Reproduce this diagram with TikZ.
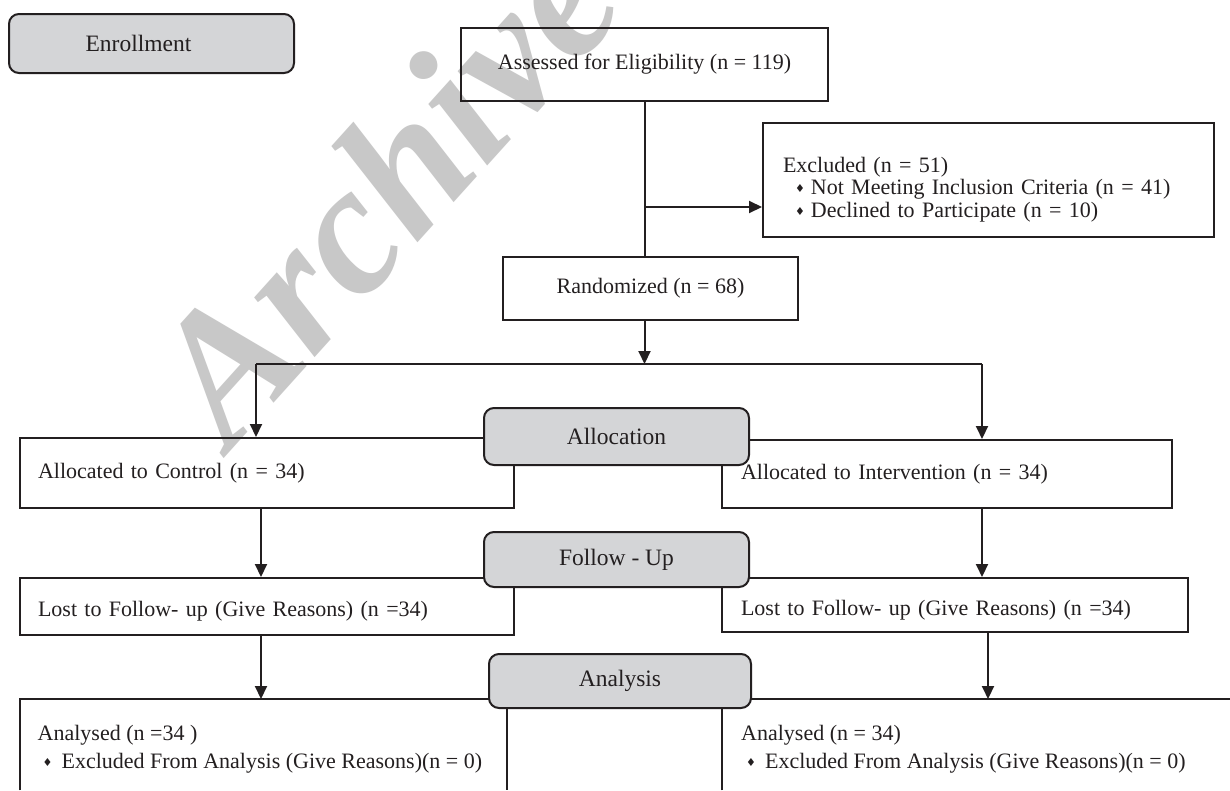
\documentclass[tikz,border=0pt]{standalone}
\usepackage{fontspec}
\setmainfont{Liberation Serif}
\newfontfamily\symfont{DejaVu Sans}
\usetikzlibrary{arrows.meta,calc}
\definecolor{ink}{RGB}{35,31,32}
\definecolor{boxgray}{RGB}{212,213,215}
\definecolor{wmgray}{RGB}{200,200,200}
\newcommand{\bul}{{\symfont\fontsize{11}{11}\selectfont\raisebox{2pt}{♦}}}
\tikzset{
  whitebox/.style={draw=ink, line width=2pt, inner sep=0pt, text=ink, font=\fontsize{22}{24}\selectfont},
  leftbox/.style={whitebox, align=left},
  txt/.style={inner sep=0pt, text=ink, align=left, font=\fontsize{22}{28}\selectfont},
  graybox/.style={draw=ink, fill=boxgray, rounded corners=10pt, line width=2pt, inner sep=0pt, text=ink, font=\fontsize{23.5}{26}\selectfont},
  frame/.style={draw=ink, line width=2pt},
  conn/.style={draw=ink, line width=2pt},
  arr/.style={conn, -{Triangle[width=12pt,length=13pt]}},
  wm/.style={text=wmgray, inner sep=0pt, font=\fontsize{185}{185}\selectfont\bfseries\itshape}
}
\begin{document}
\begin{tikzpicture}[x=1pt,y=-1pt]
\useasboundingbox (0,0) rectangle (1230,790);
\fill[white] (0,0) rectangle (1230,790);

% watermark
\node[wm, rotate=48, anchor=base west] (wmark) at (230,452) {Archive};

% boxes
\node[graybox, minimum width=285pt, minimum height=59pt] (enroll) at (151.5,43.5) {Enrollment\hspace*{26pt}};
\node[whitebox, minimum width=367pt, minimum height=73pt] (assess) at (644.5,64.5) {Assessed for Eligibility (n = 119)};
\node[leftbox, minimum width=451pt, minimum height=114pt, text width=411pt, inner xsep=20pt, font=\fontsize{22}{22.5}\selectfont] (excl) at (988.5,180)
  {\rule{0pt}{34pt}Excluded (n = 51)\\ \hspace*{12pt}\bul\hspace{6pt}Not Meeting Inclusion Criteria (n = 41)\\ \hspace*{12pt}\bul\hspace{6pt}Declined to Participate (n = 10)};
\node[whitebox, minimum width=295pt, minimum height=63pt] (rand) at (650.5,288.5) {Randomized (n = 68)};

\node[leftbox, minimum width=494pt, minimum height=70pt, text width=458pt, inner xsep=18pt] (ctrl) at (267,473) {Allocated to Control (n = 34)};
\node[leftbox, minimum width=450pt, minimum height=68pt, text width=412pt, inner xsep=19pt] (intv) at (947,474) {Allocated to Intervention (n = 34)};
\node[leftbox, minimum width=494pt, minimum height=57pt, text width=458pt, inner xsep=18pt] (lostL) at (267,606.5) {\rule{0pt}{25pt}Lost to Follow- up (Give Reasons) (n =34)};
\node[leftbox, minimum width=466pt, minimum height=54pt, text width=428pt, inner xsep=19pt] (lostR) at (955,605) {\rule{0pt}{25pt}Lost to Follow- up (Give Reasons) (n =34)};

% bottom boxes, running past the lower edge
\node[inner sep=0pt, minimum width=487pt, minimum height=91pt, anchor=north west] (anL) at (20,699) {};
\node[inner sep=0pt, minimum width=508pt, minimum height=91pt, anchor=north west] (anR) at (722,699) {};
\draw[frame] (anL.south west) -- (anL.north west) -- (anL.north east) -- (anL.south east);
\draw[frame] (anR.south west) -- (anR.north west) -- (anR.north east);
\node[txt, anchor=west] (anLt) at (37.5,749) {Analysed (n =34 )\\ \hspace*{5pt}\bul\hspace{9pt}Excluded From Analysis (Give Reasons)(n = 0)};
\node[txt, anchor=west] (anRt) at (741,749) {Analysed (n = 34)\\ \hspace*{5pt}\bul\hspace{9pt}Excluded From Analysis (Give Reasons)(n = 0)};

% connectors
\coordinate (exJ) at (assess.south |- 0,207);
\coordinate (split) at (assess.south |- 0,364);
\coordinate (brL) at (256,364);
\coordinate (brR) at (982,364);
\draw[conn] (assess.south) -- (assess.south |- rand.north);
\draw[arr] (exJ) -- (exJ -| excl.west);
\draw[arr] (assess.south |- rand.south) -- (split);
\draw[conn] (brL) -- (brR);
\draw[arr] (brL) -- (brL |- ctrl.north);
\draw[arr] (brR) -- (brR |- intv.north);
\draw[arr] (ctrl.south -| 261,0) -- (lostL.north -| 261,0);
\draw[arr] (intv.south -| 982,0) -- (lostR.north -| 982,0);
\draw[arr] (lostL.south -| 261,0) -- (anL.north -| 261,0);
\draw[arr] (lostR.south -| 988,0) -- (anR.north -| 988,0);

% stage labels
\node[graybox, minimum width=265pt, minimum height=57pt] (alloc) at (616.5,436.5) {Allocation};
\node[graybox, minimum width=265pt, minimum height=55pt] (follow) at (616.5,559.5) {Follow - Up};
\node[graybox, minimum width=262pt, minimum height=54pt] (analysis) at (620,681) {Analysis};
\end{tikzpicture}
\end{document}
